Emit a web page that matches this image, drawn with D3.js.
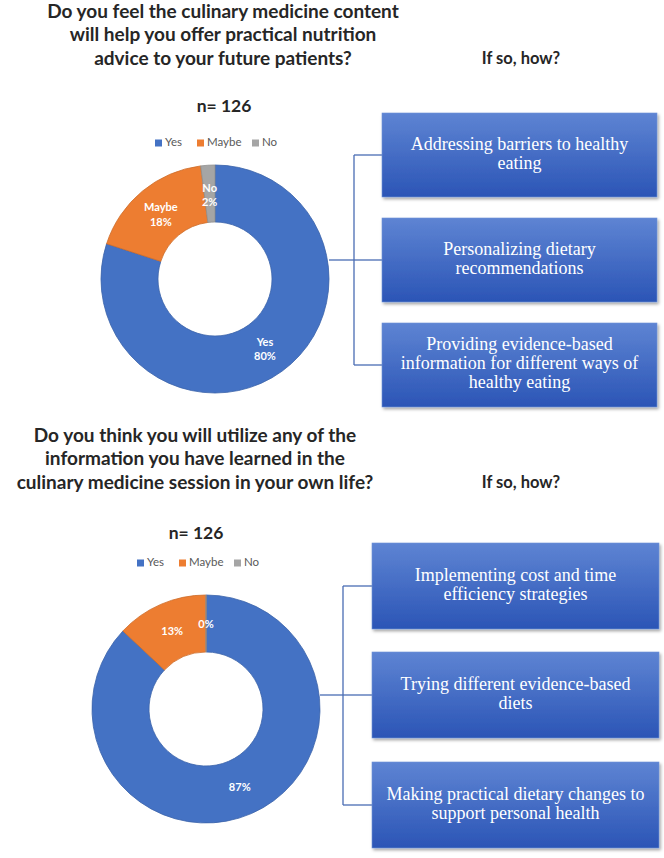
<!DOCTYPE html>
<html><head><meta charset="utf-8">
<script src="https://cdn.jsdelivr.net/npm/d3@7"></script>
<style>body{margin:0;background:#fff}svg{display:block}</style>
</head><body>
<svg id="chart" width="664" height="858"></svg>
<script>
// ---- data ----
const categories = ["Yes", "Maybe", "No"];
const colors = ["#4472C4", "#ED7D31", "#A5A5A5"];
const q1Title = ["Do you feel the culinary medicine content", "will help you offer practical nutrition", "advice to your future patients?"];
const q1N = "n= 126";
const q1Values = [80, 18, 2];
const q1Reasons = [
  ["Addressing barriers to healthy", "eating"],
  ["Personalizing dietary", "recommendations"],
  ["Providing evidence-based", "information for different ways of", "healthy eating"]
];
const q2Title = ["Do you think you will utilize any of the", "information you have learned in the", "culinary medicine session in your own life?"];
const q2N = "n= 126";
const q2Values = [87, 13, 0];
const q2Reasons = [
  ["Implementing cost and time", "efficiency strategies"],
  ["Trying different evidence-based", "diets"],
  ["Making practical dietary changes to", "support personal health"]
];
const subTitle = "If so, how?";

const svg = d3.select("#chart");
const defs = svg.append("defs");
const grad = defs.append("linearGradient").attr("id", "boxGrad").attr("x1", 0).attr("y1", 0).attr("x2", 0).attr("y2", 1);
grad.append("stop").attr("offset", "0%").attr("stop-color", "#5e84d3");
grad.append("stop").attr("offset", "100%").attr("stop-color", "#2b55b6");
const f = defs.append("filter").attr("id", "shadow").attr("x", "-10%").attr("y", "-10%").attr("width", "130%").attr("height", "140%");
f.append("feDropShadow").attr("dx", 1.5).attr("dy", 2).attr("stdDeviation", 1.5).attr("flood-color", "#000").attr("flood-opacity", 0.35);

const titleFont = "Lato, 'Open Sans', sans-serif";

function section(cfg) {
  const g = svg.append("g");
  // title
  g.append("g").selectAll("text").data(cfg.title).join("text")
    .attr("x", cfg.titleX).attr("y", (d, i) => cfg.titleY + i * 23.5)
    .attr("text-anchor", "middle").attr("dominant-baseline", "middle")
    .attr("font-family", titleFont).attr("font-weight", 700).attr("font-size", 19)
    .attr("fill", "#262626").text(d => d);
  g.append("text").attr("x", 521).attr("y", cfg.titleY + 47)
    .attr("text-anchor", "middle").attr("dominant-baseline", "middle")
    .attr("font-family", titleFont).attr("font-weight", 700).attr("font-size", 16.5)
    .attr("fill", "#262626").text(subTitle);
  g.append("text").attr("x", cfg.nX).attr("y", cfg.nY)
    .attr("text-anchor", "middle").attr("dominant-baseline", "middle")
    .attr("font-family", titleFont).attr("font-weight", 700).attr("font-size", 17.5)
    .attr("fill", "#262626").text(cfg.n);

  // legend
  const legOffsets = [0, 42, 97];
  const leg = g.append("g").attr("transform", `translate(${cfg.legX},${cfg.legY})`);
  categories.forEach((c, i) => {
    leg.append("rect").attr("x", legOffsets[i]).attr("y", -3.5).attr("width", 7).attr("height", 7).attr("fill", colors[i]);
    leg.append("text").attr("x", legOffsets[i] + 10).attr("y", 0).attr("dominant-baseline", "middle")
      .attr("font-family", titleFont).attr("font-size", 11.5).attr("fill", "#595959").text(c);
  });

  // donut
  const pie = d3.pie().sort(null).value(d => d.v);
  const data = categories.map((c, i) => ({ c, v: cfg.values[i], col: colors[i] }));
  const arcs = pie(data);
  const arc = d3.arc().innerRadius(57).outerRadius(114);
  const labelArc = d3.arc().innerRadius(85).outerRadius(85);
  const dg = g.append("g").attr("transform", `translate(${cfg.cx},${cfg.cy})`);
  dg.selectAll("path").data(arcs).join("path")
    .attr("d", arc).attr("fill", d => d.data.col)
    .attr("stroke", d => d3.color(d.data.col).darker(0.4)).attr("stroke-width", 0.8);
  const lab = dg.selectAll("g.lab").data(arcs).join("g").attr("class", "lab")
    .attr("transform", d => `translate(${labelArc.centroid(d)})`);
  lab.each(function (d) {
    const t = d3.select(this).append("text").attr("text-anchor", "middle")
      .attr("font-family", titleFont).attr("font-weight", 700).attr("font-size", 11).attr("fill", "#fff");
    const pct = d.data.v + "%";
    if (cfg.showName) {
      t.append("tspan").attr("x", 0).attr("dy", "-0.2em").text(d.data.c);
      t.append("tspan").attr("x", 0).attr("dy", "1.3em").text(pct);
    } else {
      t.append("tspan").attr("x", 0).attr("dy", "0.35em").text(pct);
    }
  });

  // connector
  const boxCenters = cfg.boxTops.map(t => t + cfg.boxH / 2);
  const lineCol = "#4a6cb3";
  const cg = g.append("g").attr("stroke", lineCol).attr("stroke-width", 1.3).attr("fill", "none");
  cg.append("line").attr("x1", cfg.cx + 114).attr("x2", cfg.vx).attr("y1", boxCenters[1]).attr("y2", boxCenters[1]);
  cg.append("line").attr("x1", cfg.vx).attr("x2", cfg.vx).attr("y1", boxCenters[0]).attr("y2", boxCenters[2]);
  boxCenters.forEach(y => cg.append("line").attr("x1", cfg.vx).attr("x2", cfg.boxX).attr("y1", y).attr("y2", y));

  // boxes
  cfg.reasons.forEach((lines, i) => {
    const bg = g.append("g").attr("transform", `translate(${cfg.boxX},${cfg.boxTops[i]})`);
    bg.append("rect").attr("width", cfg.boxW).attr("height", cfg.boxH)
      .attr("fill", "url(#boxGrad)").attr("stroke", "#6f93d8").attr("stroke-width", 0.6)
      .attr("filter", "url(#shadow)");
    const lh = 19;
    const y0 = cfg.boxH / 2 - (lines.length - 1) * lh / 2;
    bg.selectAll("text").data(lines).join("text")
      .attr("x", cfg.boxW / 2).attr("y", (d, j) => y0 + j * lh)
      .attr("text-anchor", "middle").attr("dominant-baseline", "middle")
      .attr("font-family", "'Liberation Serif', 'Times New Roman', serif").attr("font-size", 18)
      .attr("fill", "#fff").text(d => d);
  });
}

section({
  title: q1Title, titleX: 223, titleY: 13, n: q1N, nX: 224, nY: 108,
  legX: 155, legY: 143, values: q1Values, showName: true,
  cx: 215, cy: 279, vx: 354, boxX: 382, boxW: 275, boxH: 84, boxTops: [113, 218, 323],
  reasons: q1Reasons
});
section({
  title: q2Title, titleX: 195, titleY: 437, n: q2N, nX: 196, nY: 535,
  legX: 137, legY: 563, values: q2Values, showName: false,
  cx: 206, cy: 709, vx: 343, boxX: 372, boxW: 287, boxH: 86, boxTops: [543, 652, 762],
  reasons: q2Reasons
});
</script>
</body></html>
